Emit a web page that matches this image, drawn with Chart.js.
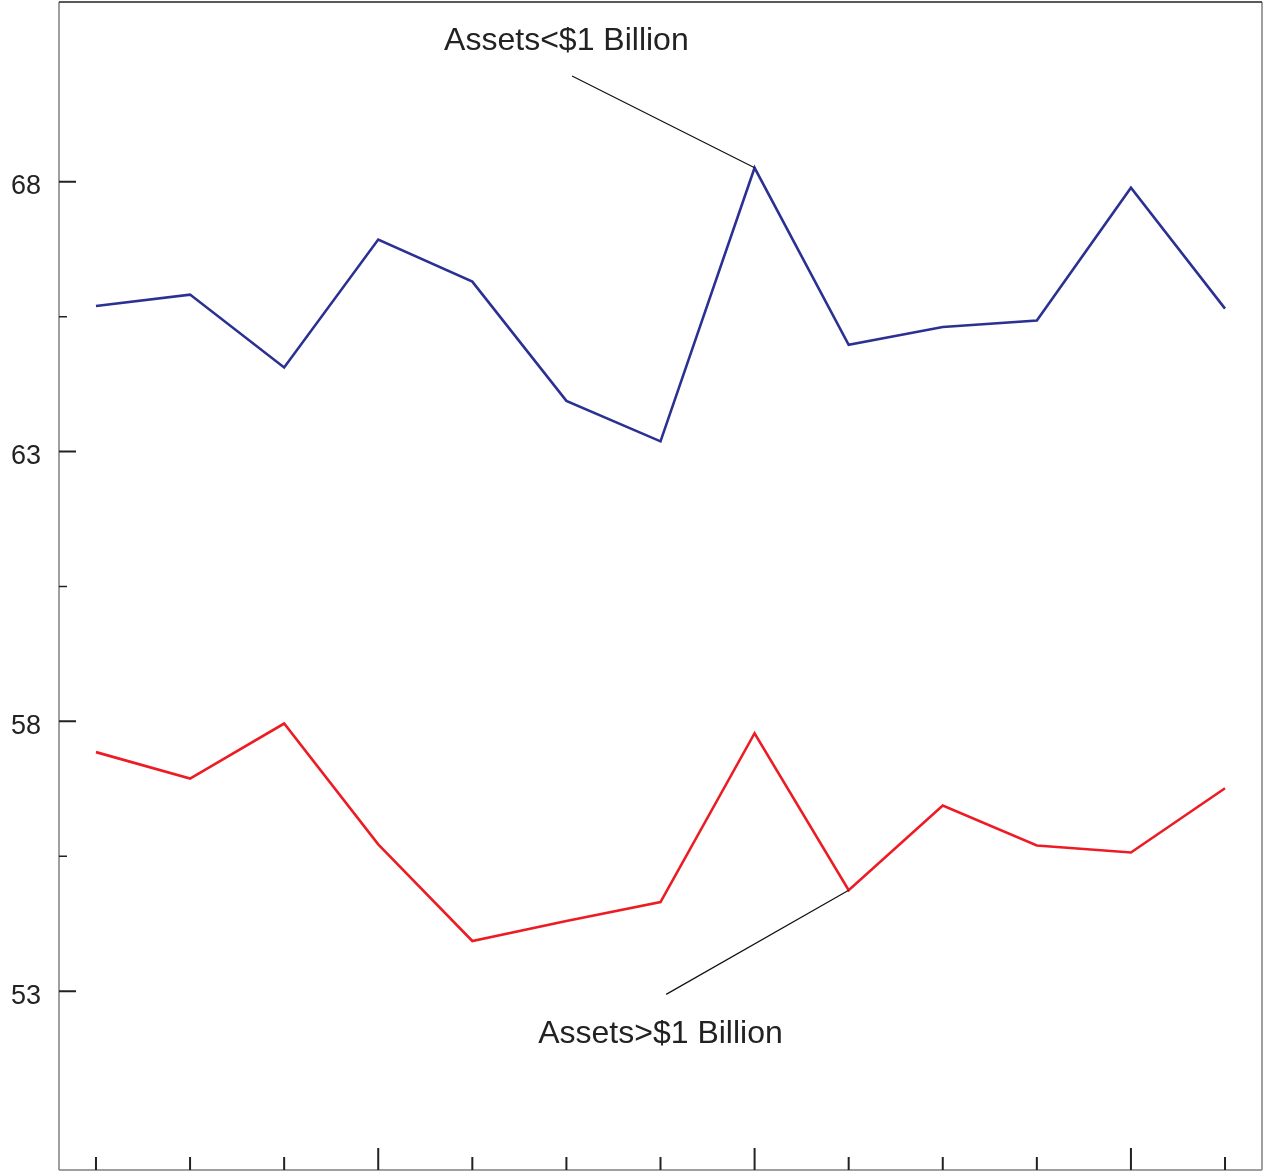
<!DOCTYPE html>
<html>
<head>
<meta charset="utf-8">
<script src="https://cdn.jsdelivr.net/npm/chart.js@4/dist/chart.umd.min.js"></script>
<style>
html,body{margin:0;padding:0;background:#fff;}
#wrap{width:1264px;height:1172px;}
</style>
</head>
<body>
<div id="wrap"><canvas id="c" width="1264" height="1172"></canvas></div>
<script>
// ---- data ----
const periods = [1,2,3,4,5,6,7,8,9,10,11,12,13];
const smallBanks = [65.70,65.91,64.56,66.93,66.15,63.94,63.19,68.26,64.98,65.31,65.43,67.89,65.65]; // Assets<$1 Billion
const largeBanks = [57.43,56.94,57.96,55.72,53.93,54.30,54.65,57.78,54.87,56.44,55.70,55.57,56.76]; // Assets>$1 Billion
const majorTicks = [53,58,63,68];
const minorTicks = [55.5,60.5,65.5];
const longTickIdx = [3,7,11];
const labelSmall = 'Assets<$1 Billion';
const labelLarge = 'Assets>$1 Billion';

const FONT = '"Liberation Sans", Arial, Helvetica, sans-serif';

const decor = {
  id:'decor',
  afterDraw(chart){
    const ctx = chart.ctx, a = chart.chartArea;
    const xs = chart.scales.x, ys = chart.scales.y;
    ctx.save();
    // frame
    ctx.lineWidth = 1.5;
    ctx.strokeStyle = '#808080';
    ctx.beginPath();
    ctx.moveTo(a.left, a.top); ctx.lineTo(a.left, a.bottom);
    ctx.moveTo(a.right, a.top); ctx.lineTo(a.right, a.bottom);
    ctx.moveTo(a.left, a.bottom); ctx.lineTo(a.right, a.bottom);
    ctx.stroke();
    ctx.strokeStyle = '#222';
    ctx.beginPath();
    ctx.moveTo(a.left, a.top); ctx.lineTo(a.right, a.top);
    ctx.stroke();
    // y ticks
    ctx.strokeStyle = '#222';
    ctx.lineWidth = 2;
    ctx.beginPath();
    majorTicks.forEach(v=>{const y=ys.getPixelForValue(v); ctx.moveTo(a.left,y); ctx.lineTo(a.left+17,y);});
    ctx.stroke();
    ctx.lineWidth = 1.5;
    ctx.beginPath();
    minorTicks.forEach(v=>{const y=ys.getPixelForValue(v); ctx.moveTo(a.left,y); ctx.lineTo(a.left+8,y);});
    ctx.stroke();
    ctx.fillStyle = '#222';
    ctx.font = '27px ' + FONT;
    ctx.textAlign = 'right';
    ctx.textBaseline = 'middle';
    majorTicks.forEach(v=>{const y=ys.getPixelForValue(v); ctx.fillText(String(v), 41, y+5);});
    // x ticks
    ctx.lineWidth = 2;
    ctx.beginPath();
    periods.forEach((p,i)=>{
      const x = xs.getPixelForValue(i);
      const len = longTickIdx.includes(i) ? 22 : 13;
      ctx.moveTo(x, a.bottom); ctx.lineTo(x, a.bottom-len);
    });
    ctx.stroke();
    // annotations
    ctx.lineWidth = 1.2;
    ctx.strokeStyle = '#111';
    ctx.beginPath();
    ctx.moveTo(xs.getPixelForValue(5.06), ys.getPixelForValue(69.96));
    ctx.lineTo(xs.getPixelForValue(7), ys.getPixelForValue(smallBanks[7]));
    ctx.moveTo(xs.getPixelForValue(6.06), ys.getPixelForValue(52.94));
    ctx.lineTo(xs.getPixelForValue(8), ys.getPixelForValue(largeBanks[8]));
    ctx.stroke();
    ctx.font = '32px ' + FONT;
    ctx.textAlign = 'center';
    ctx.textBaseline = 'middle';
    ctx.fillStyle = '#222';
    ctx.fillText(labelSmall, xs.getPixelForValue(5.0), ys.getPixelForValue(70.6));
    ctx.fillText(labelLarge, xs.getPixelForValue(6.0), ys.getPixelForValue(52.2));
    ctx.restore();
  }
};

new Chart(document.getElementById('c'), {
  type:'line',
  data:{
    datasets:[
      {label:labelSmall, data:smallBanks.map((v,i)=>({x:i,y:v})), borderColor:'#2b3192', borderWidth:2.6, pointRadius:0, tension:0, fill:false},
      {label:labelLarge, data:largeBanks.map((v,i)=>({x:i,y:v})), borderColor:'#ed1c24', borderWidth:2.6, pointRadius:0, tension:0, fill:false}
    ]
  },
  options:{
    responsive:false,
    animation:false,
    devicePixelRatio:1,
    layout:{padding:{left:59, top:2, right:2, bottom:2}},
    plugins:{legend:{display:false}, tooltip:{enabled:false}},
    scales:{
      x:{type:'linear', display:false, min:-0.393, max:12.393},
      y:{type:'linear', display:false, min:49.685, max:71.333}
    }
  },
  plugins:[decor]
});
</script>
</body>
</html>
